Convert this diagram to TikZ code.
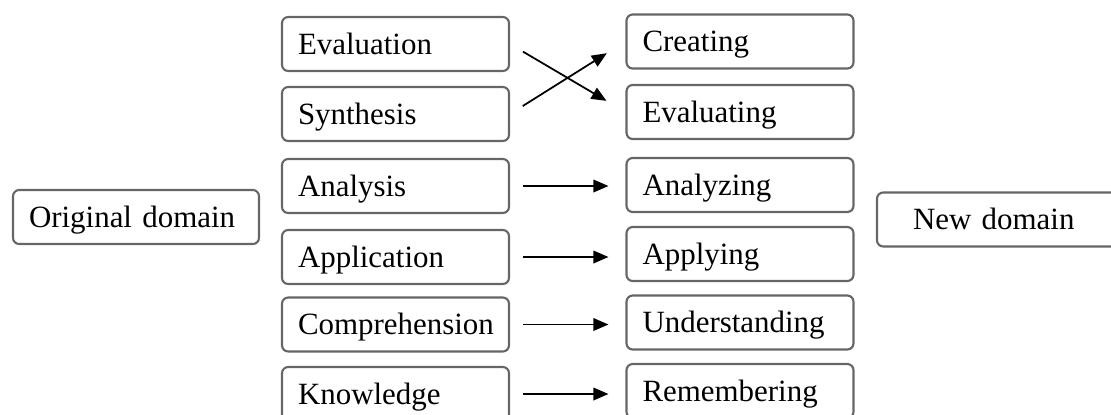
\documentclass[tikz,border=0pt]{standalone}
\usepackage{fontspec}
\setmainfont{Liberation Serif}
\usetikzlibrary{arrows.meta}
\tikzset{
  level box/.style={
    draw=black!60, line width=1.2pt, rounded corners=3.5pt, fill=white,
    minimum height=1.08cm, text width=3.9cm, inner xsep=0.32cm, align=left,
    text height=0.47cm, text depth=0.06cm, font=\fontsize{17.6}{20}\selectfont
  },
  map arrow/.style={
    -{Triangle[length=0.3cm,width=0.25cm]}, line width=1pt,
    shorten <=0.26cm, shorten >=0.34cm
  }
}

\begin{document}
\begin{tikzpicture}[x=0.02cm,y=-0.02cm]
\useasboundingbox (0,0) rectangle (1111,414);
% old taxonomy
\node[level box] (evaluation) at (395.5,44) {Evaluation};
\node[level box] (synthesis) at (395.5,114) {Synthesis};
\node[level box] (analysis) at (395.5,186) {Analysis};
\node[level box] (application) at (395.5,257) {Application};
\node[level box] (comprehension) at (395.5,324.5) {Comprehension};
\node[level box] (knowledge) at (395.5,394) {Knowledge};
% revised taxonomy
\node[level box] (creating) at (740,41.5) {Creating};
\node[level box] (evaluating) at (740,112) {Evaluating};
\node[level box] (analyzing) at (740,185) {Analyzing};
\node[level box] (applying) at (740,254) {Applying};
\node[level box] (understanding) at (740,322.5) {Understanding};
\node[level box] (remembering) at (740,391) {Remembering};
% domains
\node[level box, text width=4.28cm] (original) at (136,217) {Original domain};
\node[level box, text width=3.76cm, inner xsep=0.72cm] (new) at (1007,219.5) {New domain};

\draw[map arrow, shorten <=0.3cm, shorten >=0.44cm] (evaluation.east) -- (evaluating.west);
\draw[map arrow, shorten <=0.3cm, shorten >=0.44cm] (synthesis.east) -- (creating.west);
\draw[map arrow] (analysis.east) -- (analysis.east -| analyzing.west);
\draw[map arrow] (application.east) -- (application.east -| applying.west);
\draw[map arrow] (comprehension.east) -- (comprehension.east -| understanding.west);
\draw[map arrow] (knowledge.east) -- (knowledge.east -| remembering.west);
\end{tikzpicture}
\end{document}
